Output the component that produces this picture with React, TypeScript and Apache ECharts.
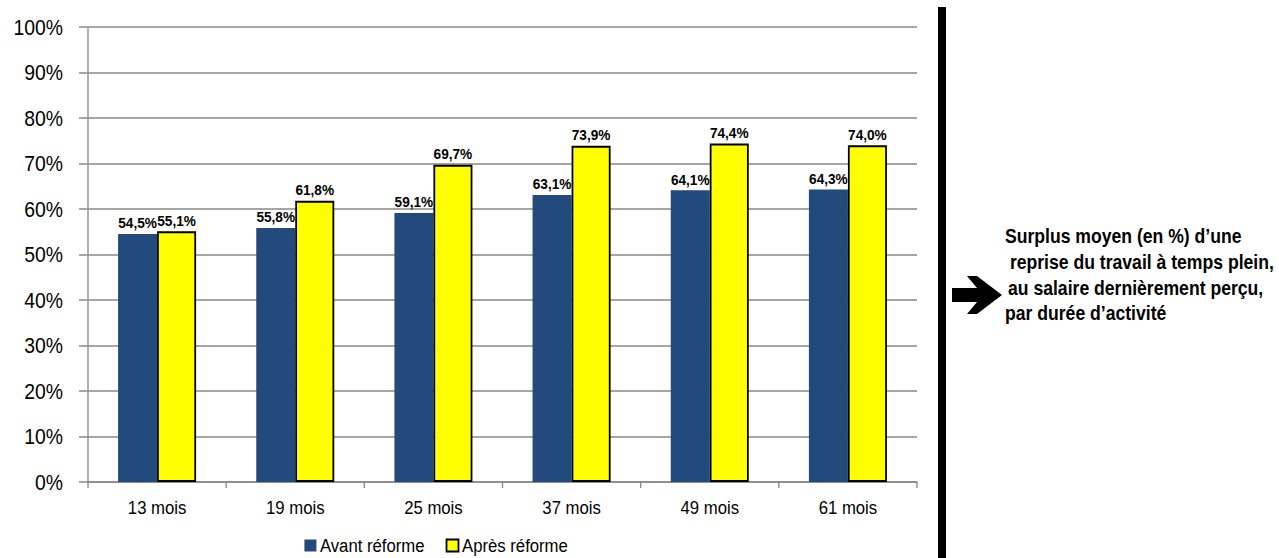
import React, { useEffect, useRef } from "react";
import * as echarts from "echarts";

const categories = ["13 mois", "19 mois", "25 mois", "37 mois", "49 mois", "61 mois"];
const avantReforme = [54.5, 55.8, 59.1, 63.1, 64.1, 64.3];
const apresReforme = [55.1, 61.8, 69.7, 73.9, 74.4, 74.0];
const yTicks = [0, 10, 20, 30, 40, 50, 60, 70, 80, 90, 100];
const noteLines = [
  "Surplus moyen (en %) d’une",
  " reprise du travail à temps plein,",
  "au salaire dernièrement perçu,",
  "par durée d’activité",
];

const fmt = (v: number) => v.toFixed(1).replace(".", ",") + "%";

// the reference is horizontally condensed; draw wider, then squeeze with CSS
const SX = 0.88;
const W = 1279;
const H = 558;
const X = (v: number) => v / SX;

export default function App() {
  const ref = useRef<HTMLDivElement>(null);
  useEffect(() => {
    document.body.style.margin = "0";
    const chart = echarts.init(ref.current!, null, { renderer: "svg" });
    const noteX = [1005, 1005, 1008, 1005];
    const noteY = [236, 262, 288, 313];
    const arrow = [
      [952, 288],
      [977, 288],
      [967, 276],
      [977, 276],
      [1002, 295],
      [977, 314],
      [967, 314],
      [977, 302],
      [952, 302],
    ].map(([x, y]) => [X(x), y]);
    chart.setOption({
      animation: false,
      backgroundColor: "#fff",
      textStyle: { fontFamily: "Liberation Sans, Arial, sans-serif" },
      grid: { left: X(88), top: 27, width: X(829), height: 455, containLabel: false, outerBoundsMode: "none" },
      legend: {
        left: X(300),
        top: 531,
        itemWidth: X(12),
        itemHeight: 12,
        itemGap: X(21),
        textStyle: { fontSize: 19, color: "#000", padding: [0, 0, 0, -1] },
        data: [
          { name: "Avant réforme", icon: "rect" },
          { name: "Après réforme", icon: "rect" },
        ],
      },
      xAxis: {
        type: "category",
        data: categories,
        axisLine: { lineStyle: { color: "#888", width: 1.5 } },
        axisTick: { show: true, length: 6, lineStyle: { color: "#888", width: 1.5 } },
        axisLabel: { fontSize: 19, color: "#000", margin: 16 },
      },
      yAxis: {
        type: "value",
        min: 0,
        max: 100,
        interval: 10,
        axisLine: { show: true, lineStyle: { color: "#888", width: 1.5 } },
        axisTick: { show: true, length: X(9), lineStyle: { color: "#888", width: 1.5 } },
        splitLine: { lineStyle: { color: "#888", width: 1.5 } },
        axisLabel: {
          fontSize: 22,
          color: "#000",
          margin: X(25),
          formatter: (v: number) => (yTicks.includes(v) ? v + "%" : ""),
        },
      },
      series: [
        {
          name: "Avant réforme",
          type: "bar",
          data: avantReforme,
          barWidth: X(39),
          barGap: "0%",
          itemStyle: { color: "#234A7D" },
          label: {
            show: true,
            position: "top",
            distance: 3,
            fontSize: 15.5,
            fontWeight: "bold",
            color: "#000",
            formatter: (p: any) => fmt(p.value),
          },
        },
        {
          name: "Après réforme",
          type: "bar",
          data: apresReforme,
          barWidth: X(39),
          barGap: "0%",
          itemStyle: { color: "#FFFF00", borderColor: "#000", borderWidth: 2 },
          label: {
            show: true,
            position: "top",
            distance: 3,
            fontSize: 15.5,
            fontWeight: "bold",
            color: "#000",
            formatter: (p: any) => fmt(p.value),
          },
        },
      ],
      graphic: [
        { type: "rect", shape: { x: X(938), y: 7, width: X(8), height: 551 }, style: { fill: "#000" } },
        { type: "polygon", shape: { points: arrow }, style: { fill: "#000" } },
        ...noteLines.map((t, i) => ({
          type: "text",
          x: X(noteX[i]),
          y: noteY[i],
          style: {
            text: t,
            fill: "#000",
            font: "bold 20px 'Liberation Sans', Arial, sans-serif",
            textVerticalAlign: "middle",
          },
        })),
      ],
    });
    return () => chart.dispose();
  }, []);
  return (
    <div style={{ width: W, height: H, overflow: "hidden", position: "relative" }}>
      <div
        ref={ref}
        style={{ width: X(W), height: H, transform: `scaleX(${SX})`, transformOrigin: "0 0" }}
      />
    </div>
  );
}
